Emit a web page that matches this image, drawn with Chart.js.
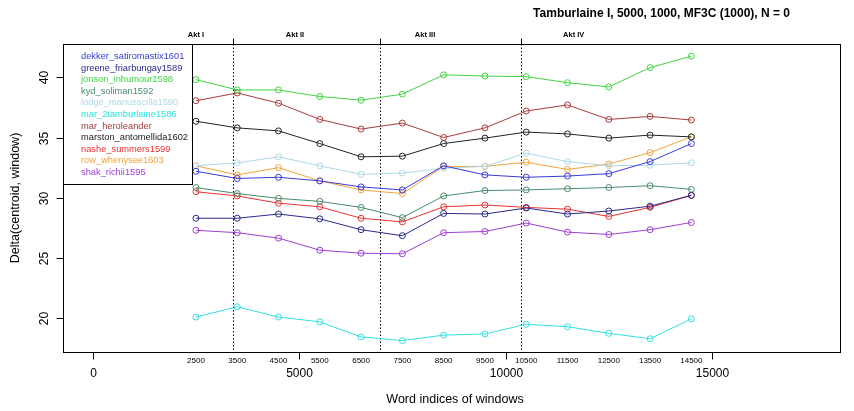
<!DOCTYPE html>
<html>
<head>
<meta charset="utf-8">
<script src="https://cdn.jsdelivr.net/npm/chart.js@4/dist/chart.umd.min.js"></script>
<style>
    html, body { margin: 0; padding: 0; background: #fff; }
    #wrap { width: 854px; height: 411px; }
</style>
</head>
<body>
<div id="wrap"><canvas id="deltaChart" width="854" height="411"></canvas></div>
<script>
// positions des fenêtres (indices de mots)
const windowIndices = [2500, 3500, 4500, 5500, 6500, 7500, 8500, 9500, 10500, 11500, 12500, 13500, 14500];

const authors = [
    'dekker_satiromastix1601', 'greene_friarbungay1589', 'jonson_inhumour1598', 'kyd_soliman1592',
    'lodge_mariusscilla1590', 'mar_2tamburlaine1586', 'mar_heroleander', 'marston_antomellida1602',
    'nashe_summers1599', 'row_whenysee1603', 'shak_richii1595'
];

const dekker = [32.2, 31.6, 31.7, 31.4, 30.9, 30.65, 32.65, 31.9, 31.7, 31.8, 32.0, 33.0, 34.5];
const greene = [28.3, 28.3, 28.65, 28.25, 27.35, 26.85, 28.7, 28.65, 29.15, 28.65, 28.9, 29.3, 30.2];
const jonson = [39.8, 38.95, 38.95, 38.4, 38.1, 38.6, 40.2, 40.1, 40.05, 39.55, 39.2, 40.8, 41.75];
const kyd = [30.85, 30.35, 29.95, 29.7, 29.2, 28.35, 30.15, 30.6, 30.65, 30.75, 30.85, 31.0, 30.7];
const lodge = [32.65, 32.9, 33.4, 32.65, 31.95, 32.05, 32.45, 32.6, 33.7, 33.0, 32.65, 32.7, 32.9];
const mar2tamburlaine = [20.1, 20.95, 20.1, 19.7, 18.45, 18.15, 18.6, 18.7, 19.5, 19.3, 18.75, 18.3, 19.95];
const marHeroleander = [38.05, 38.7, 37.85, 36.5, 35.7, 36.2, 35.0, 35.8, 37.2, 37.7, 36.5, 36.75, 36.45];
const marston = [36.35, 35.8, 35.55, 34.5, 33.4, 33.45, 34.5, 34.95, 35.45, 35.3, 34.95, 35.2, 35.05];
const nashe = [30.5, 30.15, 29.55, 29.25, 28.3, 28.0, 29.25, 29.4, 29.2, 29.05, 28.45, 29.2, 30.2];
const row = [32.65, 31.9, 32.5, 31.4, 30.65, 30.35, 32.6, 32.6, 32.95, 32.35, 32.8, 33.75, 35.05];
const shak = [27.3, 27.1, 26.65, 25.65, 25.4, 25.35, 27.1, 27.2, 27.9, 27.15, 26.95, 27.35, 27.95];

const seriesValues = [dekker, greene, jonson, kyd, lodge, mar2tamburlaine, marHeroleander, marston, nashe, row, shak];
const seriesColors = ['#3a3ad8', '#2a2a8a', '#3fd43f', '#4a8c6a', '#add8e6', '#33e0e0',
    '#a83c3c', '#222222', '#e83333', '#f2a43a', '#9b3fd6'];

// graduations des axes
const yTicks = [20, 25, 30, 35, 40];
const xMajorTicks = [0, 5000, 10000, 15000];
const actBoundaries = [3403, 6950, 10365];
const actLabels = ['Akt I', 'Akt II', 'Akt III', 'Akt IV'];
const actLabelPositions = [2500, 4900, 8050, 11650];

const chartTitle = 'Tamburlaine I, 5000, 1000, MF3C (1000), N = 0';
const xTitle = 'Word indices of windows';
const yTitle = 'Delta(centroid, window)';

const FONT = '"Liberation Sans", Arial, sans-serif';

// axes, cadre, légende et titres à la manière de R
const rStylePlugin = {
    id: 'rStyle',
    beforeDatasetsDraw(chart) {
        const {ctx, chartArea, scales: {x}} = chart;
        ctx.save();
        ctx.strokeStyle = '#000';
        ctx.lineWidth = 1;
        ctx.setLineDash([1.5, 2]);
        actBoundaries.forEach(v => {
            const px = Math.round(x.getPixelForValue(v)) + 0.5;
            ctx.beginPath();
            ctx.moveTo(px, chartArea.top);
            ctx.lineTo(px, chartArea.bottom);
            ctx.stroke();
        });
        ctx.restore();
    },
    afterDraw(chart) {
        const {ctx, chartArea, scales: {x, y}} = chart;
        const left = Math.round(chartArea.left) + 0.5;
        const right = Math.round(chartArea.right) + 0.5;
        const top = Math.round(chartArea.top) + 0.5;
        const bottom = Math.round(chartArea.bottom) + 0.5;

        ctx.save();
        ctx.strokeStyle = '#000';
        ctx.fillStyle = '#000';
        ctx.lineWidth = 1;

        // cadre
        ctx.strokeRect(left, top, right - left, bottom - top);

        // axe y
        ctx.font = '12px ' + FONT;
        ctx.textAlign = 'center';
        ctx.textBaseline = 'middle';
        yTicks.forEach(v => {
            const py = Math.round(y.getPixelForValue(v)) + 0.5;
            ctx.beginPath();
            ctx.moveTo(left - 7, py);
            ctx.lineTo(left, py);
            ctx.stroke();
            ctx.save();
            ctx.translate(45, py);
            ctx.rotate(-Math.PI / 2);
            ctx.fillText(String(v), 0, 0);
            ctx.restore();
        });

        // axe x : graduations principales
        xMajorTicks.forEach(v => {
            const px = Math.round(x.getPixelForValue(v)) + 0.5;
            ctx.beginPath();
            ctx.moveTo(px, bottom);
            ctx.lineTo(px, bottom + 7);
            ctx.stroke();
            ctx.fillText(String(v), px, 374);
        });

        // positions des fenêtres
        ctx.font = '8px ' + FONT;
        windowIndices.forEach(v => {
            ctx.fillText(String(v), x.getPixelForValue(v), 361);
        });

        // actes en haut
        actBoundaries.forEach(v => {
            const px = Math.round(x.getPixelForValue(v)) + 0.5;
            ctx.beginPath();
            ctx.moveTo(px, top);
            ctx.lineTo(px, top - 6);
            ctx.stroke();
        });
        ctx.font = 'bold 7.5px ' + FONT;
        actLabels.forEach((label, i) => {
            ctx.fillText(label, x.getPixelForValue(actLabelPositions[i]), 35);
        });

        // titres
        ctx.font = 'bold 12px ' + FONT;
        ctx.textAlign = 'right';
        ctx.fillText(chartTitle, 790, 14);

        ctx.font = '12.5px ' + FONT;
        ctx.textAlign = 'center';
        ctx.fillText(xTitle, 455, 400);
        ctx.save();
        ctx.translate(16, (chartArea.top + chartArea.bottom) / 2);
        ctx.rotate(-Math.PI / 2);
        ctx.fillText(yTitle, 0, 0);
        ctx.restore();

        // légende
        ctx.fillStyle = '#fff';
        ctx.fillRect(left, top, 129, 140);
        ctx.strokeRect(left, top, 129, 140);
        ctx.font = '9.3px ' + FONT;
        ctx.textAlign = 'left';
        authors.forEach((name, i) => {
            ctx.fillStyle = seriesColors[i];
            ctx.fillText(name, 81, 56.5 + i * 11.6);
        });
        ctx.restore();
    }
};

const datasets = authors.map((name, i) => ({
    label: name,
    data: windowIndices.map((xv, j) => ({x: xv, y: seriesValues[i][j]})),
    borderColor: seriesColors[i],
    pointBorderColor: seriesColors[i],
    pointBackgroundColor: 'rgba(0, 0, 0, 0)',
    borderWidth: 1,
    pointRadius: 3,
    pointBorderWidth: 1,
    fill: false,
    tension: 0
}));

new Chart(document.getElementById('deltaChart'), {
    type: 'line',
    data: {datasets: datasets},
    options: {
        responsive: false,
        animation: false,
        layout: {
            padding: {left: 63, right: 14, top: 44, bottom: 59}
        },
        plugins: {
            legend: {display: false},
            tooltip: {enabled: false}
        },
        scales: {
            x: {type: 'linear', min: -720, max: 18100, display: false},
            y: {type: 'linear', min: 17.2, max: 42.76, display: false}
        }
    },
    plugins: [rStylePlugin]
});
</script>
</body>
</html>
